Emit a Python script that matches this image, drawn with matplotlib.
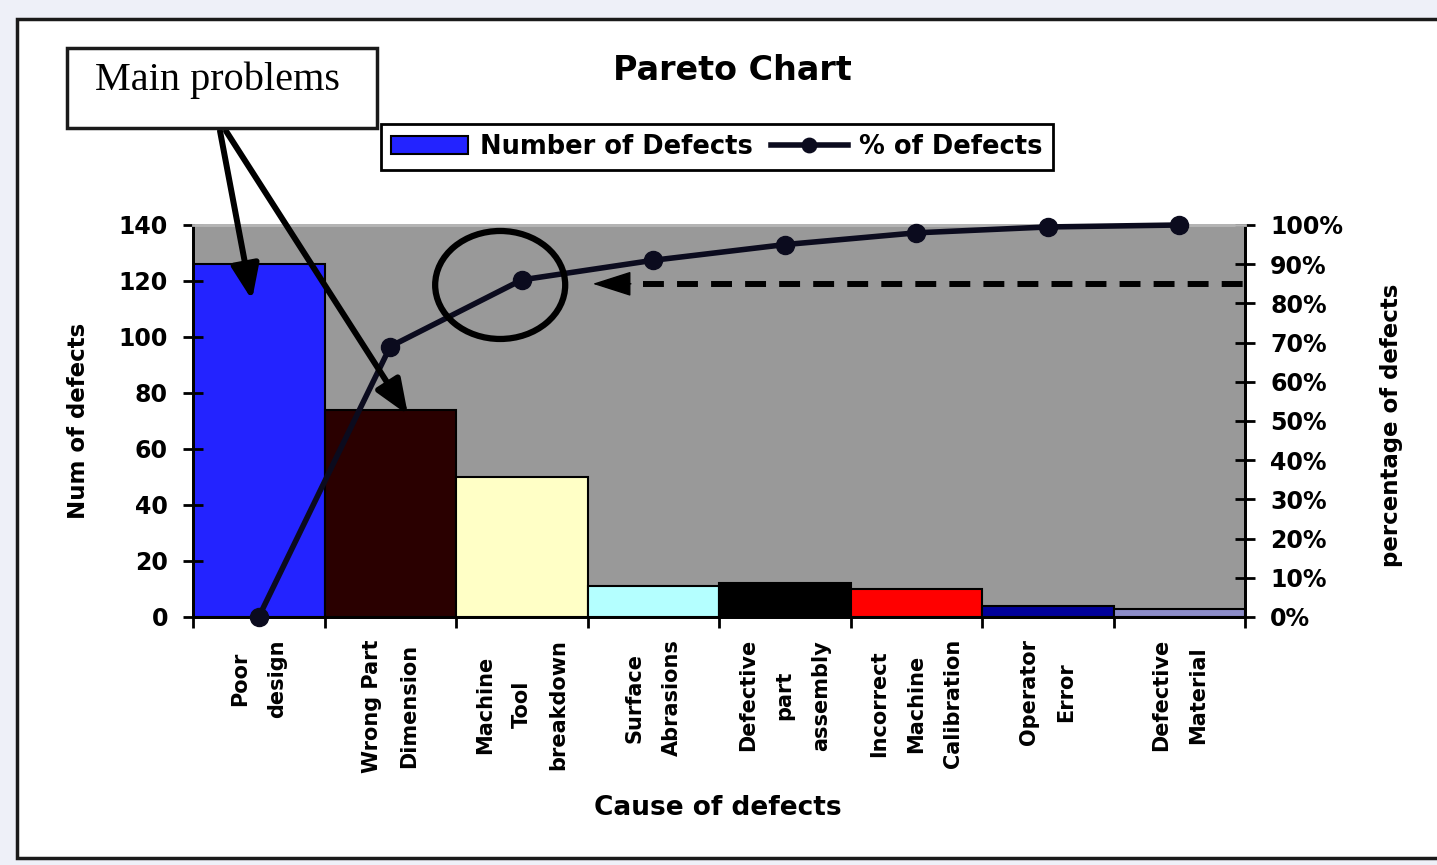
import matplotlib
matplotlib.use("Agg")
import numpy as np
import matplotlib.pyplot as plt
from matplotlib import patches as pat

# data
categories = ['Poor\ndesign', 'Wrong Part\nDimension', 'Machine\nTool\nbreakdown',
              'Surface\nAbrasions', 'Defective\npart\nassembly',
              'Incorrect\nMachine\nCalibration', 'Operator\nError', 'Defective\nMaterial']
num_defects = [126, 74, 50, 11, 12, 10, 4, 3]
pct_defects = [0, 69, 86, 91, 95, 98, 99.5, 100]
bar_colors = ['#2323ff', '#2a0000', '#ffffc6', '#b4ffff',
              '#000000', '#ff0000', '#00009a', '#8c8cc8']
left_ticks = [0, 20, 40, 60, 80, 100, 120, 140]
right_ticks = [0, 10, 20, 30, 40, 50, 60, 70, 80, 90, 100]
cutoff_pct = 85

W, H = 1437, 865

def fx(x):
    return x / W

def fy(y):
    return 1 - y / H

plt.rcParams['font.family'] = ['DejaVu Sans']
plt.rcParams['font.weight'] = 'bold'

fig = plt.figure(figsize=(W / 100, H / 100), dpi=100, facecolor='#eef0f8')

# white panel with dark border
panel = pat.Rectangle((fx(17), fy(858)), 1.0, fy(19) - fy(858), transform=fig.transFigure,
                      facecolor='white', edgecolor='#1a1a1a', linewidth=2.5, zorder=-1)
fig.add_artist(panel)

ax = fig.add_axes([fx(193), fy(617), (1245 - 193) / W, (617 - 225) / H])
ax.set_facecolor('#999999')
x = np.arange(len(categories))
bars = ax.bar(x, num_defects, width=1.0, color=bar_colors, edgecolor='black',
              linewidth=1.5)
ax.set_xlim(-0.5, 7.5)
ax.set_ylim(0, 140)
ax.set_yticks(left_ticks)
ax.tick_params(axis='y', direction='inout', length=14, width=2, labelsize=17, pad=11)
ax.set_xticks(x)
ax.set_xticklabels(categories, rotation=90, fontsize=15, fontweight='bold', linespacing=2.05)
ax.tick_params(axis='x', which='major', length=0, pad=16)
ax.set_xticks(np.arange(-0.5, 8, 1), minor=True)
ax.tick_params(axis='x', which='minor', direction='out', length=8, width=2)

ax.set_ylabel('Num of defects', fontsize=16.5, fontweight='bold')
ax.yaxis.set_label_coords(-0.109, 0.5)
ax.yaxis.label.set_va('center')
ax.set_xlabel('Cause of defects', fontsize=19, fontweight='bold')
ax.xaxis.set_label_coords(0.499, -0.487)
ax.xaxis.label.set_va('center')

ax2 = ax.twinx()
ax2.set_ylim(0, 100)
ax2.set_yticks(right_ticks)
ax2.set_yticklabels(['%d%%' % v for v in right_ticks])
ax2.tick_params(axis='y', direction='inout', length=14, width=2, labelsize=17, pad=11)
ax2.set_ylabel('percentage of defects', fontsize=16.5, fontweight='bold')
ax2.yaxis.set_label_coords(1.1397, 0.49)
ax2.yaxis.label.set_va('center')

for a in (ax, ax2):
    for s in ('left', 'bottom', 'right'):
        a.spines[s].set_color('black')
        a.spines[s].set_linewidth(2)
    a.spines['top'].set_color('#b4b4b4')
    a.spines['top'].set_linewidth(2)

line, = ax2.plot(x, pct_defects, color='#0b0b1e', linewidth=4, marker='o',
                 markersize=13, clip_on=False, zorder=5)

# 85% cut-off with arrow
ax2.plot([2.92, 7.5], [cutoff_pct, cutoff_pct], color='black', linewidth=4.3,
         linestyle=(0, (3.5, 2.2)), clip_on=False, zorder=4)
ax2.annotate('', xy=(2.54, cutoff_pct), xytext=(2.83, cutoff_pct),
             arrowprops=dict(arrowstyle='-|>,head_length=1.0,head_width=0.32',
                             mutation_scale=25, lw=1, color='black',
                             shrinkA=0, shrinkB=0))

# circle round the 80% crossing
ax2.add_patch(pat.Ellipse((0.292, 0.847), 0.1236, 0.2755, transform=ax2.transAxes,
                          fill=False, linewidth=4.5, edgecolor='black',
                          clip_on=False, zorder=6))

# "Main problems" callout
box = pat.Rectangle((fx(67), fy(128)), 310 / W, 80 / H, transform=fig.transFigure,
                    facecolor='white', edgecolor='#1a1a1a', linewidth=2.5, zorder=4)
fig.add_artist(box)
fig.text(fx(218), fy(80), 'Main problems', family='Liberation Serif', fontweight='normal',
         fontsize=29, ha='center', va='center', zorder=5)
for start, tip in [((220, 131), (252, 300)), ((226, 131), (408, 415))]:
    ax2.annotate('', xy=(fx(tip[0]), fy(tip[1])), xytext=(fx(start[0]), fy(start[1])),
                 xycoords='figure fraction', textcoords='figure fraction',
                 annotation_clip=False, zorder=8,
                 arrowprops=dict(arrowstyle='-|>,head_length=1.05,head_width=0.42',
                                 mutation_scale=20, lw=4.3, color='black',
                                 shrinkA=0, shrinkB=0))

fig.text(fx(732), fy(70), 'Pareto Chart', fontsize=24, fontweight='bold',
         ha='center', va='center')

leg = fig.legend([bars, line], ['Number of Defects', '% of Defects'], loc='center',
                 bbox_to_anchor=(fx(717), fy(147)), ncol=2,
                 prop={'size': 18.5, 'weight': 'bold'}, frameon=True, fancybox=False,
                 edgecolor='black', framealpha=1, handlelength=3.0, handletextpad=0.45,
                 columnspacing=0.7, borderpad=0.4, markerscale=0.8)
leg.get_frame().set_linewidth(2)

fig.savefig('out.png', dpi=100, facecolor=fig.get_facecolor())
